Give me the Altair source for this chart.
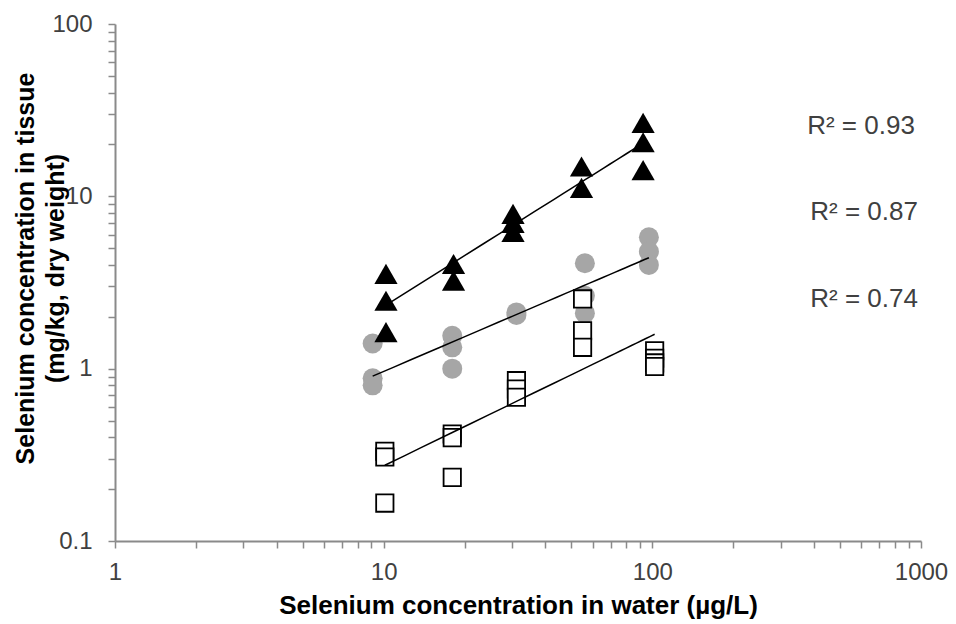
import altair as alt
import pandas as pd

# ---- data ----
tri_x = [10.2, 10.2, 10.2, 18.2, 18.2, 30.3, 30.3, 30.3, 54.5, 54.5, 92.4, 92.4, 92.4]
tri_y = [3.55, 2.48, 1.63, 4.05, 3.24, 7.91, 7.01, 6.22, 14.9, 11.2, 26.7, 20.6, 14.2]

cir_x = [9.1, 9.1, 9.1, 18.0, 18.0, 18.0, 31.2, 31.2, 56.1, 56.1, 56.1, 97.1, 97.1, 97.1]
cir_y = [1.40, 0.88, 0.80, 1.55, 1.33, 1.00, 2.12, 2.05, 4.09, 2.65, 2.10, 5.79, 4.78, 4.00]

sq_x = [10.1, 10.1, 10.1, 18.0, 18.0, 18.0, 31.2, 31.2, 31.2, 55.0, 55.0, 55.0, 102, 102, 102, 102]
sq_y = [0.332, 0.307, 0.166, 0.418, 0.398, 0.234, 0.852, 0.762, 0.682, 2.54, 1.66, 1.33,
        1.27, 1.15, 1.08, 1.03]

r2_labels = ["R\u00b2 = 0.93", "R\u00b2 = 0.87", "R\u00b2 = 0.74"]
r2_x = [598, 614, 614]
r2_y = [25.6, 8.12, 2.54]

x_ticks = [1, 2, 3, 4, 5, 6, 7, 8, 9,
           10, 20, 30, 40, 50, 60, 70, 80, 90,
           100, 200, 300, 400, 500, 600, 700, 800, 900, 1000]
y_ticks = [0.1, 0.2, 0.3, 0.4, 0.5, 0.6, 0.7, 0.8, 0.9,
           1, 2, 3, 4, 5, 6, 7, 8, 9,
           10, 20, 30, 40, 50, 60, 70, 80, 90, 100]
x_major = [1, 10, 100, 1000]
y_major = [0.1, 1, 10, 100]

x_title = "Selenium concentration in water (\u00b5g/L)"
y_title = ["Selenium concentration in tissue", "(mg/kg, dry weight)"]

# ---- tables ----
df = pd.concat([
    pd.DataFrame({"x": tri_x, "y": tri_y, "series": "tri"}),
    pd.DataFrame({"x": cir_x, "y": cir_y, "series": "cir"}),
    pd.DataFrame({"x": sq_x, "y": sq_y, "series": "sq"}),
], ignore_index=True)
r2df = pd.DataFrame({"x": r2_x, "y": r2_y, "label": r2_labels})

FONT = "Liberation Sans, Arial, sans-serif"
AXIS_GREY = "#8a8a8a"
LABEL_COL = "#404040"

def lab_expr(vals):
    return "indexof([" + ",".join(str(v) for v in vals) + "], datum.value) >= 0 ? datum.label : ''"

X = alt.X("x:Q",
          scale=alt.Scale(type="log", domain=[1, 1000], nice=False),
          axis=alt.Axis(values=x_ticks, format="~g", labelExpr=lab_expr(x_major),
                        grid=False, labelFlush=False, labelOverlap=False,
                        tickSize=7, tickWidth=1.5, tickColor=AXIS_GREY,
                        domainColor=AXIS_GREY, domainWidth=2,
                        labelFont=FONT, labelFontSize=24, labelColor=LABEL_COL,
                        labelPadding=12,
                        title=x_title, titleFont=FONT, titleFontSize=26,
                        titleFontWeight="bold", titleColor="black",
                        titleBaseline="middle", titleY=64))
Y = alt.Y("y:Q",
          scale=alt.Scale(type="log", domain=[0.1, 100], nice=False),
          axis=alt.Axis(values=y_ticks, format="~g", labelExpr=lab_expr(y_major),
                        grid=False, labelOverlap=False, labelFlush=False,
                        tickSize=7, tickWidth=1.5, tickColor=AXIS_GREY,
                        domainColor=AXIS_GREY, domainWidth=2,
                        labelFont=FONT, labelFontSize=24, labelColor=LABEL_COL,
                        labelPadding=16,
                        title=y_title, titleFont=FONT, titleFontSize=25,
                        titleFontWeight="bold", titleColor="black",
                        titleAngle=270, titleAlign="center", titleBaseline="top",
                        titleLineHeight=30, titleX=-102, titleY=244))

base = alt.Chart(df)

circles = base.transform_filter(alt.datum.series == "cir").mark_point(
    shape="circle", filled=True, size=400, color="#a6a6a6", opacity=1
).encode(x=X, y=Y)

triangles = base.transform_filter(alt.datum.series == "tri").mark_point(
    shape="triangle-up", filled=True, size=540, color="black", opacity=1
).encode(x=X, y=Y)

squares = base.transform_filter(alt.datum.series == "sq").mark_point(
    shape="square", filled=True, size=300, fill="white", stroke="black",
    strokeWidth=1.8, opacity=1, fillOpacity=1, strokeOpacity=1
).encode(x=X, y=Y)

trends = base.transform_regression(
    "x", "y", method="pow", groupby=["series"]
).mark_line(color="black", strokeWidth=1.5).encode(x=X, y=Y, detail="series:N")

r2 = alt.Chart(r2df).mark_text(
    font=FONT, fontSize=26, color=LABEL_COL, align="center", baseline="middle"
).encode(x=X, y=Y, text="label:N")

chart = alt.layer(circles, triangles, squares, trends, r2).properties(
    width=806, height=517,
    padding={"left": 115, "top": 24, "right": 35, "bottom": 83},
    autosize=alt.AutoSizeParams(type="none"),
    background="white",
).configure_view(stroke=None)

chart.save("out.html", embed_options={"renderer": "svg", "actions": False})
